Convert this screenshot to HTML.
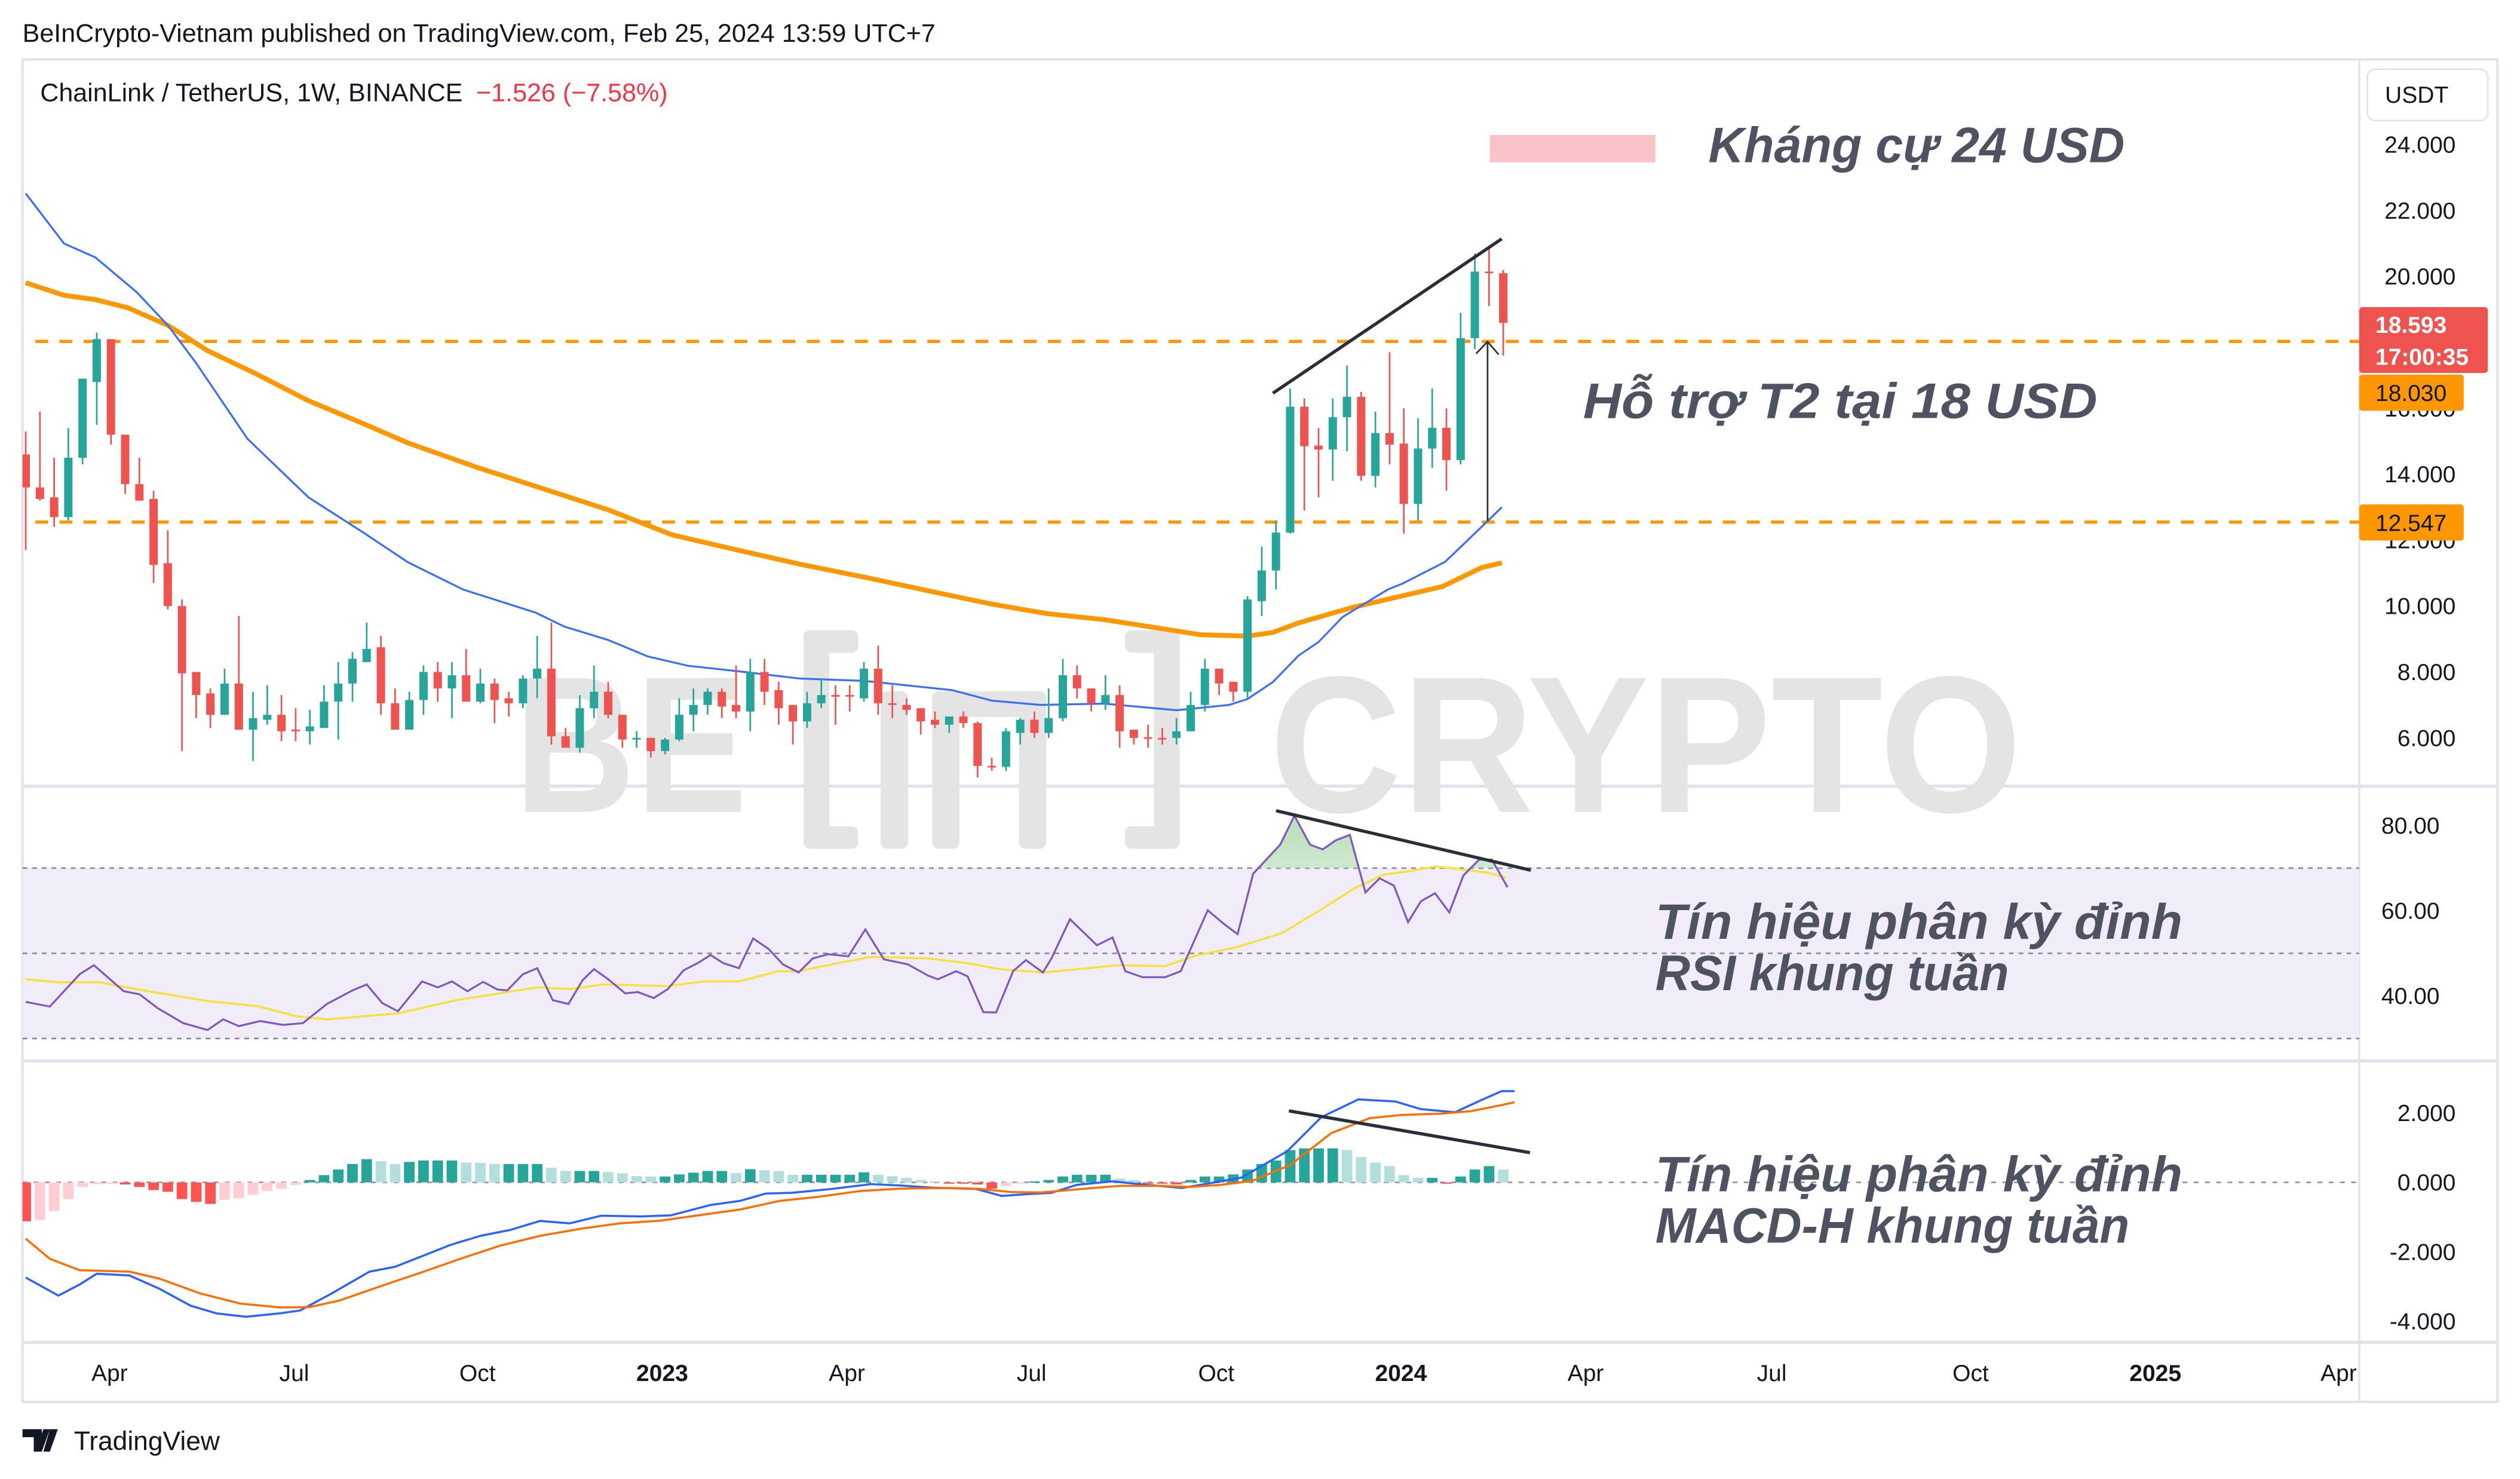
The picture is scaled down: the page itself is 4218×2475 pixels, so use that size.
<!DOCTYPE html>
<html><head><meta charset="utf-8"><title>LINK/USDT weekly</title>
<style>
html,body{margin:0;padding:0;background:#fff;}
svg{display:block;}
text{font-family:"Liberation Sans",sans-serif;}
</style></head>
<body>
<svg id="chart" xmlns="http://www.w3.org/2000/svg" width="4218" height="2475" viewBox="0 0 1568 920" preserveAspectRatio="none">
  <defs>
    <clipPath id="mainClip"><rect x="14" y="37" width="1454" height="452"/></clipPath>
    <clipPath id="rsiClip"><rect x="14" y="490" width="1454" height="170"/></clipPath>
    <clipPath id="macdClip"><rect x="14" y="661" width="1454" height="174"/></clipPath>
    <linearGradient id="obGrad" x1="0" y1="0" x2="0" y2="1">
      <stop offset="0" stop-color="#a5d6a7" stop-opacity="0.8"/>
      <stop offset="1" stop-color="#e8f5e9" stop-opacity="0.3"/>
    </linearGradient>
  </defs>
  <text x="14" y="26" font-size="16" fill="#131722">BeInCrypto-Vietnam published on TradingView.com, Feb 25, 2024 13:59 UTC+7</text>
  <rect x="14" y="37" width="1540" height="835" fill="none" stroke="#e0e3eb" stroke-width="1.5"/>
  <line x1="1468" y1="37" x2="1468" y2="872" stroke="#e0e3eb" stroke-width="1.2"/>
  <line x1="14" y1="489" x2="1554" y2="489" stroke="#e0e3eb" stroke-width="2"/>
  <line x1="14" y1="660" x2="1554" y2="660" stroke="#e0e3eb" stroke-width="2"/>
  <line x1="14" y1="835" x2="1554" y2="835" stroke="#e0e3eb" stroke-width="2"/>

  <g fill="#e4e4e4">
    <text x="320" y="505" font-size="121" font-weight="bold" textLength="145" lengthAdjust="spacingAndGlyphs" fill="#e4e4e4">BE</text>
    <rect x="500" y="392" width="16" height="136" rx="4"/>
    <rect x="500" y="392" width="34" height="14" rx="4"/>
    <rect x="500" y="514" width="34" height="14" rx="4"/>
    <rect x="548" y="430" width="17" height="98" rx="4"/>
    <rect x="580" y="430" width="17" height="98" rx="4"/>
    <rect x="580" y="430" width="68" height="16" rx="6"/>
    <rect x="634" y="430" width="17" height="98" rx="4"/>
    <rect x="700" y="392" width="34" height="14" rx="4"/>
    <rect x="718" y="392" width="16" height="136" rx="4"/>
    <rect x="700" y="514" width="34" height="14" rx="4"/>
    <text x="790" y="505" font-size="121" font-weight="bold" textLength="468" lengthAdjust="spacingAndGlyphs" fill="#e4e4e4">CRYPTO</text>
  </g>

  <text x="25" y="63" font-size="16" fill="#131722">ChainLink / TetherUS, 1W, BINANCE <tspan fill="#f23645" dx="4">−1.526 (−7.58%)</tspan></text>

  <g id="mainPane" clip-path="url(#mainClip)"></g>
  <g id="rsiPane" clip-path="url(#rsiClip)"></g>
  <g id="macdPane" clip-path="url(#macdClip)"></g>
  <g id="axes"></g>

  <rect x="927" y="84" width="103" height="17" fill="#f9c3c8"/>
  <g font-weight="bold" font-style="italic" fill="#4f5260" font-size="31">
    <text x="1063" y="101" textLength="259" lengthAdjust="spacingAndGlyphs">Kháng cự 24 USD</text>
    <text x="985" y="260" textLength="320" lengthAdjust="spacingAndGlyphs">Hỗ trợ T2 tại 18 USD</text>
    <text x="1030" y="584" textLength="328" lengthAdjust="spacingAndGlyphs">Tín hiệu phân kỳ đỉnh</text>
    <text x="1030" y="616" textLength="220" lengthAdjust="spacingAndGlyphs">RSI khung tuần</text>
    <text x="1030" y="741" textLength="328" lengthAdjust="spacingAndGlyphs">Tín hiệu phân kỳ đỉnh</text>
    <text x="1030" y="773" textLength="295" lengthAdjust="spacingAndGlyphs">MACD-H khung tuần</text>
  </g>

  <rect x="1473" y="43" width="75" height="32" rx="5" fill="#fff" stroke="#e0e3eb"/>
  <text x="1484" y="64" font-size="14.5" fill="#131722">USDT</text>

  <g>
    <path d="M14 889 h12 v14 h-5 v-9 h-7z M27 889 h4 l-5 14 h-4z M31 889 h5 l-5 14 h-4z" fill="#131722"/>
    <text x="46" y="902" font-size="16.5" fill="#131722">TradingView</text>
  </g>
</svg>
<script>
// ---------- price data (weekly candles) ----------
const candleOpen  = [14.6,13.6,13.3,12.7,14.5,16.8,18.1,15.2,13.7,13.25,11.3,10.0,8.0,7.35,6.7,7.65,6.25,6.55,6.7,6.25,6.2,6.3,7.1,7.65,8.3,8.75,7.05,6.25,7.15,8.0,7.5,7.9,7.1,7.65,7.2,7.05,7.8,8.1,6.05,5.7,6.9,7.4,6.7,5.95,6.0,5.6,5.95,6.7,7.0,7.4,7.0,6.8,8.0,7.45,7.0,6.5,7.05,7.3,7.3,7.2,8.1,7.05,7.0,6.9,6.55,6.4,6.65,6.45,5.15,5.12,6.15,6.55,6.15,6.6,7.9,7.5,7.05,7.3,6.25,6.02,6.0,6.0,6.2,7.0,8.1,7.7,7.4,10.15,11.08,12.23,16.05,14.87,14.75,15.73,16.35,13.95,15.25,14.93,13.1,14.78,15.41,14.43,18.13,20.15,20.1];
const candleHigh  = [15.3,15.9,14.5,15.4,16.9,18.3,18.1,15.2,14.5,13.5,12.3,10.2,8.0,7.5,8.1,9.7,7.4,7.6,7.3,6.9,6.85,7.6,8.3,8.6,9.5,9.1,7.5,7.4,8.2,8.3,8.3,8.7,8.1,7.8,7.4,7.9,9.1,9.5,6.3,7.3,8.2,7.7,6.7,6.2,6.0,6.0,7.2,7.5,7.5,7.5,8.2,8.4,8.4,7.7,7.0,7.4,7.8,7.6,7.6,8.3,8.8,7.6,7.2,6.9,6.8,6.65,6.8,6.5,5.4,6.3,6.6,6.8,7.5,8.4,8.2,7.5,7.9,7.6,6.25,6.4,6.3,6.6,7.4,8.4,8.1,7.7,10.3,11.8,12.6,16.6,16.3,15.4,16.3,17.3,16.5,15.9,17.7,16.0,15.7,16.6,16.0,18.9,20.7,20.9,20.2];
const candleLow   = [11.7,13.2,12.4,12.6,14.3,15.5,14.9,13.4,13.2,10.7,9.9,5.6,6.6,6.3,6.7,6.25,5.3,6.4,5.9,5.9,5.8,6.3,5.95,7.1,8.3,6.7,6.25,6.25,6.7,7.1,6.6,7.1,7.05,6.45,6.65,6.9,7.2,5.8,5.7,5.55,6.6,6.6,5.7,5.7,5.4,5.5,5.9,6.2,6.7,6.6,6.6,6.2,7.0,6.4,5.8,6.3,6.9,6.4,6.8,7.1,6.7,6.6,6.7,6.1,6.3,6.15,6.3,4.8,5.0,5.0,5.8,6.0,6.0,6.5,7.2,6.8,6.85,5.7,5.8,5.7,5.8,5.8,6.2,6.8,7.3,7.1,7.2,9.7,10.5,12.2,12.9,13.3,13.8,14.7,13.8,13.6,14.3,12.2,12.6,14.2,13.5,14.3,17.8,19.1,17.6];
const candleClose = [13.6,13.25,12.7,14.5,16.9,18.1,15.2,13.7,13.2,11.25,10.0,7.96,7.3,6.7,7.65,6.25,6.6,6.7,6.2,6.2,6.35,7.1,7.65,8.4,8.7,7.05,6.25,7.15,8.0,7.5,7.9,7.1,7.65,7.15,7.05,7.8,8.1,6.05,5.7,6.9,7.4,6.7,5.95,6.0,5.6,5.95,6.7,7.0,7.4,6.95,6.8,8.0,7.4,6.9,6.5,7.05,7.3,7.25,7.27,8.1,7.05,7.0,6.85,6.5,6.4,6.65,6.45,5.15,5.12,6.2,6.55,6.15,6.6,7.9,7.5,7.05,7.3,6.2,6.0,6.0,5.98,6.2,7.0,8.1,7.65,7.4,10.2,11.08,12.23,16.05,14.85,14.75,15.73,16.35,13.95,15.25,14.9,13.1,14.78,15.41,14.43,18.13,20.15,20.13,18.593];
// moving averages (candle index, value)
const fastMaIdx = [0,2.7,4.9,7.8,10,12,15.6,19.9,23.8,26.9,30.8,35.9,37.9,41,43.8,46.6,50.6,54.5,59,65.2,68,71.4,75.9,81,84.7,86,87.8,89.6,91,92.7,95.9,96.9,99.9,100.9,102.9,103.9];
const fastMaVal = [22.52,21.0,20.58,19.53,18.52,17.37,15.08,13.3,12.22,11.33,10.5,9.8,9.38,8.97,8.47,8.19,8.0,7.8,7.73,7.45,7.13,7.0,7.04,6.84,7.0,7.18,7.7,8.5,8.91,9.67,10.51,10.68,11.34,11.75,12.58,13.0];
const slowMaIdx = [0,2.7,4.9,7.2,10,12.8,16.2,19.9,23.8,26.9,31.9,36.5,41,45.5,50.6,54.5,59,65.2,68,71.9,75.9,79.3,82.7,86,87.8,89.6,93.4,96.2,99.7,102.5,103.9];
const slowMaVal = [19.81,19.43,19.3,19.05,18.52,17.75,17.05,16.23,15.53,14.95,14.19,13.55,12.92,12.16,11.65,11.27,10.88,10.31,10.06,9.77,9.59,9.36,9.13,9.09,9.2,9.49,9.96,10.24,10.59,11.17,11.31];
const supportLevels = [18.03, 12.547];
const priceTicks = [24,22,20,18,16,14,12,10,8,6];
// ---------- RSI ----------
const rsiIdx = [0,1.7,3.8,4.8,6.9,8,9.3,11.1,12.8,13.9,15,16.5,18.1,19.5,21.2,23,24,25.1,26.2,27.9,29,30,31.1,32.2,33.2,33.9,35,36,37.1,38.2,39.2,40,41,42.2,43.1,44.2,45.2,46.3,47.3,48.2,49.1,50.2,51.2,52.3,53.3,54.4,55.4,56.5,57.9,59.1,60.4,62.1,63.5,64.2,65.5,66.3,67.4,68.3,69.5,70.4,71.6,72.2,73.5,75.4,76.5,77.4,78.6,80.2,81.3,83.2,84.3,85.3,86.4,88.3,89.3,90.4,91.3,92.2,93.2,94.3,95.3,96.3,97.3,98.2,99.2,100.2,101.2,102.3,103.2,104.3];
const rsiVal = [38.6,37.5,45.1,47.2,41.1,40.4,37.1,33.6,32.0,34.5,32.9,34.1,33.2,33.6,38.1,41.3,42.7,38.3,36.4,43.4,42.0,43.4,41.1,43.3,41.5,41.3,45.1,46.5,39.0,38.1,43.7,46.3,43.9,40.6,40.9,39.5,41.6,46.0,47.7,49.6,47.7,46.5,53.5,51.0,47.4,45.5,48.8,49.8,49.3,55.6,48.6,47.4,44.8,43.9,45.8,44.6,36.2,36.1,45.8,48.4,45.5,48.8,58.0,51.9,53.7,45.8,44.4,44.4,45.8,60.1,57.0,54.5,68.7,75.5,82.3,75.5,74.4,76.5,77.8,64.3,67.6,65.9,57.3,62.2,64.1,59.6,68.3,72.0,72.0,65.5];
const rsiMaIdx = [0,2.3,5.2,8.6,12.8,16.3,19.1,21.2,26.2,30.3,36,38.3,40.7,45.2,47.7,50.2,53,54.4,57.2,59.6,63.5,66.3,68.5,71.6,74.8,76.8,80.2,82.4,85.2,88.4,91.1,93.5,95.6,97.3,99.2,101,102.8,104.2];
const rsiMaVal = [43.9,43.2,43.2,41.1,38.8,37.6,35.2,34.5,35.9,39.0,42.0,41.6,42.7,42.3,43.4,43.4,45.8,45.8,47.7,49.2,48.8,47.7,46.3,45.5,46.5,47.2,47.0,49.5,51.4,54.7,60.1,65.2,68.5,69.2,70.4,69.7,69.0,67.8];
const rsiTicks = [80,60,40];
const rsiBands = [70,50,30];
// ---------- MACD ----------
const macdHist = [-1.12,-1.08,-0.82,-0.48,-0.13,-0.05,-0.02,-0.06,-0.13,-0.22,-0.27,-0.48,-0.56,-0.62,-0.50,-0.45,-0.36,-0.25,-0.18,-0.07,0.07,0.21,0.37,0.53,0.67,0.61,0.53,0.59,0.63,0.63,0.63,0.57,0.56,0.53,0.53,0.53,0.53,0.42,0.33,0.33,0.33,0.30,0.26,0.18,0.17,0.17,0.23,0.28,0.33,0.33,0.27,0.38,0.35,0.33,0.22,0.22,0.22,0.22,0.22,0.29,0.22,0.18,0.13,0.07,0.03,-0.03,-0.03,-0.06,-0.18,-0.10,-0.03,0.03,0.07,0.17,0.22,0.22,0.22,0.11,0.07,-0.03,-0.03,-0.06,0.07,0.17,0.17,0.23,0.37,0.53,0.63,0.93,0.98,0.98,0.98,0.93,0.73,0.57,0.47,0.21,0.13,0.13,-0.03,0.17,0.37,0.47,0.37];
const macdIdx = [0,2.3,3.8,5,7.3,9.4,11.6,13.4,15.5,17.9,19.3,21.4,24.2,26,27.8,29.9,32,34.1,36.2,38.3,40.5,43.3,45.4,48.2,50.3,52.1,53.9,56.7,59.5,61.6,63.7,66.9,68.7,70.8,72.2,74,76.5,78.6,81.4,83.4,85.6,88.8,91.2,93.8,96.4,98.2,100.6,102.4,103.9,104.8];
const macdVal = [-2.74,-3.26,-2.94,-2.63,-2.68,-3.06,-3.55,-3.77,-3.87,-3.77,-3.69,-3.23,-2.57,-2.43,-2.14,-1.80,-1.54,-1.37,-1.11,-1.18,-0.96,-0.98,-0.95,-0.65,-0.53,-0.32,-0.30,-0.19,-0.05,-0.09,-0.15,-0.19,-0.39,-0.33,-0.30,-0.07,0.03,-0.06,-0.16,-0.02,0.14,0.90,1.88,2.39,2.33,2.11,2.02,2.36,2.63,2.63];
const signalIdx = [0,1.7,3.8,7.3,9.4,12.3,15.1,17.9,20,22.1,24.9,27.8,30.6,33.4,36.2,39,41.8,44.7,47.5,50.3,53.1,55.9,58.7,61.6,65.1,67.2,69.4,71.5,74.3,77,79.9,82,84.1,86.3,89,91.9,94.6,96.8,99.6,101.7,103.8,104.8];
const signalVal = [-1.62,-2.20,-2.53,-2.57,-2.77,-3.20,-3.49,-3.60,-3.59,-3.40,-3.00,-2.60,-2.20,-1.82,-1.54,-1.34,-1.18,-1.10,-0.94,-0.78,-0.53,-0.41,-0.25,-0.18,-0.16,-0.19,-0.28,-0.29,-0.19,-0.10,-0.10,-0.13,-0.07,0.04,0.50,1.42,1.85,1.94,1.98,2.05,2.22,2.31];
const macdTicks = [2,0,-2,-4];
// ---------- time axis ----------
const timeLabels = ["Apr","Jul","Oct","2023","Apr","Jul","Oct","2024","Apr","Jul","Oct","2025","Apr"];
const timeLabelIdx = [5.9,18.9,31.8,44.8,57.8,70.8,83.8,96.8,109.8,122.9,136.9,149.9,162.8];

// ---------- scales ----------
const NS = "http://www.w3.org/2000/svg";
function xI(i){ return 16 + i*8.84; }
function yP(p){ return 90 + (24-p)*20.5; }
function yR(v){ return 593 - (v-50)*2.65; }
function yM(v){ return 735.5 - v*21.6; }
function mk(tag, parent, attrs){ const e=document.createElementNS(NS,tag); for(const k in attrs) e.setAttribute(k, attrs[k]); parent.appendChild(e); return e; }
function linePts(idx, vals, yf){ return idx.map((d,k)=>xI(d).toFixed(2)+","+yf(vals[k]).toFixed(2)).join(" "); }

const mainG = document.getElementById("mainPane");
const rsiG = document.getElementById("rsiPane");
const macdG = document.getElementById("macdPane");
const axG = document.getElementById("axes");

// support lines
supportLevels.forEach((lv,k)=>{
  const l = mk("line", mainG, {x1:22, x2:1468, y1:yP(lv), y2:yP(lv), stroke:"#ff9800", "stroke-width":2, "stroke-dasharray":"8 7"});
  
  
});
const slow = mk("polyline", mainG, {points: linePts(slowMaIdx, slowMaVal, yP), fill:"none", stroke:"#ff9800", "stroke-width":3, "stroke-linejoin":"round"});


const fast = mk("polyline", mainG, {points: linePts(fastMaIdx, fastMaVal, yP), fill:"none", stroke:"#3a6ff5", "stroke-width":1.2, "stroke-linejoin":"round"});


// candles
candleOpen.forEach((o,i)=>{
  const c = candleClose[i], up = c >= o, col = up ? "#26a69a" : "#ef5350";
  const x = xI(i);
  const g = mk("g", mainG, {});
  
  
  mk("line", g, {x1:x, x2:x, y1:yP(candleHigh[i]), y2:yP(candleLow[i]), stroke:col, "stroke-width":1});
  const top = yP(Math.max(o,c)), bot = yP(Math.min(o,c));
  mk("rect", g, {x:x-2.6, y:top, width:5.2, height:Math.max(bot-top,1), fill:col});
});
const tl = mk("line", mainG, {x1:792, y1:244.6, x2:934.4, y2:148.6, stroke:"#2a2e39", "stroke-width":2});


const ar = mk("path", mainG, {d:"M925.6 324 V212.5 M918.5 220 L925.6 212.5 L932.5 220.5", fill:"none", stroke:"#2a2e39", "stroke-width":1});



// price axis
priceTicks.forEach(v=>{
  const t = mk("text", axG, {x:1528, y:yP(v)+5, "text-anchor":"end", "font-size":14.5, fill:"#131722"});
  t.textContent = v.toFixed(3);
  
  
});
const lastLbl = mk("rect", axG, {x:1468, y:191, width:80, height:41, rx:2, fill:"#ef5350"});


const lp = mk("text", axG, {x:1478, y:207, "font-size":14.5, fill:"#fff", "font-weight":"bold"});
lp.textContent = candleClose[candleClose.length-1].toFixed(3);


const cd = mk("text", axG, {x:1478, y:227, "font-size":14.5, fill:"#fff", "font-weight":"bold"});
cd.textContent = "17:00:35";


supportLevels.forEach(lv=>{
  let y = yP(lv);
  // avoid overlapping the last-price label (TradingView stacks labels)
  if (y > 180 && y < 244) y = 244;
  const r = mk("rect", axG, {x:1468, y:y-11, width:65, height:22.5, rx:2, fill:"#ff9800"});
  
  
  const t = mk("text", axG, {x:1478, y:y+5.5, "font-size":14.5, fill:"#131722"});
  t.textContent = lv.toFixed(3);
  
  
});

// RSI pane
const band = mk("rect", rsiG, {x:14, y:yR(70), width:1454, height:yR(30)-yR(70), fill:"#f0edf9"});


rsiBands.forEach(v=>{
  const l = mk("line", rsiG, {x1:14, x2:1468, y1:yR(v), y2:yR(v), stroke:"#8a8d96", "stroke-width":1, "stroke-dasharray":"3 3"});
  
  
});
const clipOB = mk("clipPath", rsiG, {id:"obClip"});
mk("rect", clipOB, {x:14, y:490, width:1454, height:yR(70)-490});
const firstX = xI(rsiIdx[0]), lastX = xI(rsiIdx[rsiIdx.length-1]);
const ob = mk("polygon", rsiG, {points: linePts(rsiIdx, rsiVal, yR)+" "+lastX+","+yR(70)+" "+firstX+","+yR(70), fill:"url(#obGrad)", "clip-path":"url(#obClip)"});


const rsiMa = mk("polyline", rsiG, {points: linePts(rsiMaIdx, rsiMaVal, yR), fill:"none", stroke:"#f7e23a", "stroke-width":1.3});


const rsiL = mk("polyline", rsiG, {points: linePts(rsiIdx, rsiVal, yR), fill:"none", stroke:"#7e57c2", "stroke-width":1.2});


const rsiTl = mk("line", rsiG, {x1:794, y1:504.3, x2:952.5, y2:541.3, stroke:"#2a2e39", "stroke-width":2});


rsiTicks.forEach(v=>{
  const t = mk("text", axG, {x:1518, y:yR(v)+5, "text-anchor":"end", "font-size":14.5, fill:"#131722"});
  t.textContent = v.toFixed(2);
  
  
});

// MACD pane
const zl = mk("line", macdG, {x1:14, x2:1468, y1:yM(0), y2:yM(0), stroke:"#9598a1", "stroke-width":1, "stroke-dasharray":"3 4"});


macdHist.forEach((v,i)=>{
  const prev = i>0 ? macdHist[i-1] : v;
  let col;
  if (v >= 0) col = (v >= prev) ? "#26a69a" : "#b2dfdb";
  else col = (v <= prev) ? "#ff5252" : "#ffcdd2";
  const y0 = yM(0), y1 = yM(v);
  const b = mk("rect", macdG, {x:xI(i)-3.3, y:Math.min(y0,y1), width:6.6, height:Math.max(Math.abs(y1-y0),0.8), fill:col});
  
  
});
const macdL = mk("polyline", macdG, {points: linePts(macdIdx, macdVal, yM), fill:"none", stroke:"#2962ff", "stroke-width":1.3, "stroke-linejoin":"round"});


const sigL = mk("polyline", macdG, {points: linePts(signalIdx, signalVal, yM), fill:"none", stroke:"#ff6d00", "stroke-width":1.3, "stroke-linejoin":"round"});


const mTl = mk("line", macdG, {x1:802, y1:691, x2:952, y2:717, stroke:"#2a2e39", "stroke-width":2});


macdTicks.forEach(v=>{
  const t = mk("text", axG, {x:1528, y:yM(v)+5, "text-anchor":"end", "font-size":14.5, fill:"#131722"});
  t.textContent = v.toFixed(3);
  
  
});

// time axis
timeLabels.forEach((lab,k)=>{
  const isYear = /^\d{4}$/.test(lab);
  const t = mk("text", axG, {x:xI(timeLabelIdx[k]), y:859, "text-anchor":"middle", "font-size":14.5, fill:"#131722", "font-weight": isYear ? "bold" : "normal"});
  t.textContent = lab;
  
  
});
</script>
</body></html>
